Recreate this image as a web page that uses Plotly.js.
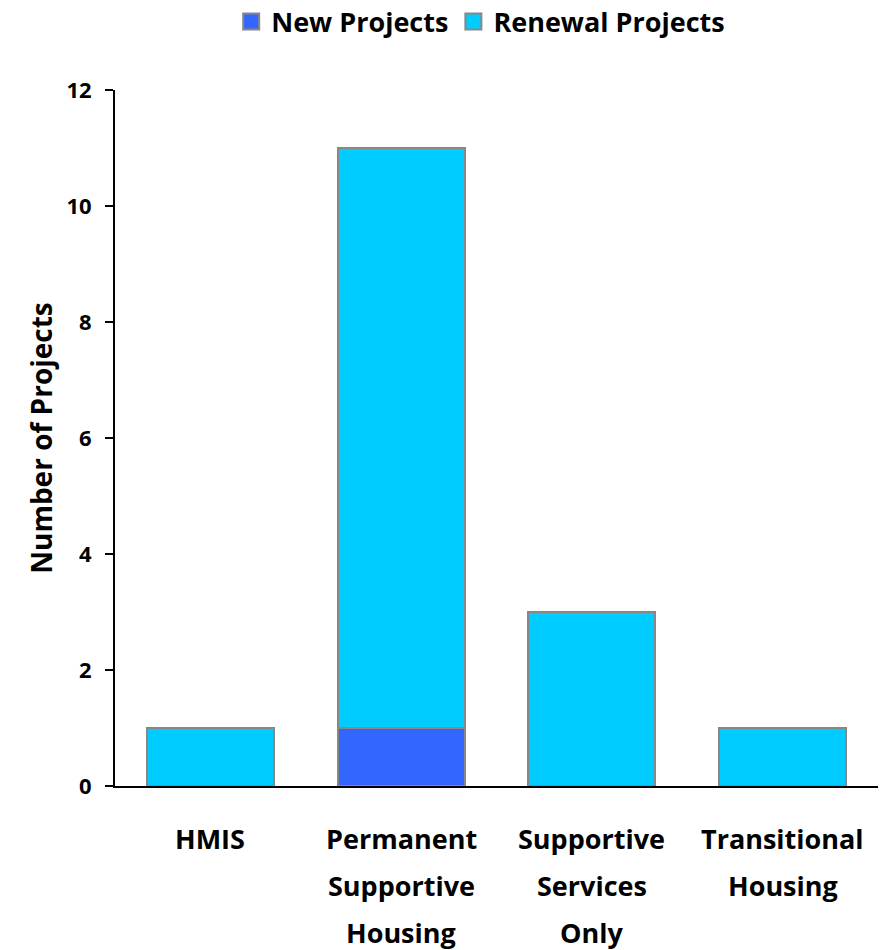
<!DOCTYPE html>
<html><head><meta charset="utf-8">
<script src="https://cdn.plot.ly/plotly-3.0.1.min.js"></script>
<style>html,body{margin:0;padding:0;background:#fff}#chart{width:882px;height:950px}</style>
</head><body><div id="chart"></div>
<script>
const categories = ["HMIS", "Permanent Supportive Housing", "Supportive Services Only", "Transitional Housing"];
const categoryLines = [["HMIS"], ["Permanent", "Supportive", "Housing"], ["Supportive", "Services", "Only"], ["Transitional", "Housing"]];
const seriesNames = ["New Projects", "Renewal Projects"];
const newProjects = [0, 1, 0, 0];
const renewalProjects = [1, 10, 3, 1];
const yTicks = [0, 2, 4, 6, 8, 10, 12];

const FONT = "'Open Sans', Lato, sans-serif";
const COLORS = ["#3366FF", "#00CCFF"];
const EDGE = "#878787";
const seriesValues = [newProjects, renewalProjects];

const traces = [];
seriesValues.forEach((vals, k) => {
  traces.push({type: "bar", name: seriesNames[k], x: categories, y: vals, showlegend: false,
    marker: {color: COLORS[k], line: {color: EDGE, width: 2}}});
});
seriesValues.forEach((vals, k) => {
  traces.push({type: "scatter", mode: "markers", name: "<b>" + seriesNames[k] + "</b>",
    x: [null], y: [null], showlegend: true, hoverinfo: "skip",
    marker: {symbol: "square", size: 22, color: COLORS[k], line: {color: EDGE, width: 2}}});
});

const annotations = [];
categoryLines.forEach((lines, i) => {
  lines.forEach((t, j) => {
    annotations.push({xref: "x", yref: "paper", x: categories[i], y: 0, yshift: -52 - 47 * j,
      yanchor: "middle", showarrow: false, text: "<b>" + t + "</b>",
      font: {family: FONT, size: 27, color: "#000"}});
  });
});

const layout = {
  width: 882, height: 950,
  margin: {l: 115, r: 4, t: 90, b: 164, autoexpand: false},
  barmode: "stack", bargap: 0.333,
  paper_bgcolor: "#fff", plot_bgcolor: "#fff",
  font: {family: FONT, color: "#000"},
  showlegend: true,
  legend: {orientation: "h", xref: "container", yref: "container", x: 0.545, xanchor: "center",
    y: 1 - 22 / 950, yanchor: "middle", itemsizing: "trace", itemwidth: 30, tracegroupgap: 0,
    font: {family: FONT, size: 27, color: "#000"}, traceorder: "normal"},
  xaxis: {type: "category", showticklabels: false, ticks: "", showline: true, linecolor: "#000", linewidth: 2,
    showgrid: false, zeroline: false, range: [-0.5, 3.5], fixedrange: true},
  yaxis: {range: [0, 12], tickvals: yTicks, ticktext: yTicks.map(v => "<b>" + v + "</b>"),
    ticks: "outside", ticklen: 8, tickwidth: 2, tickcolor: "#000", ticklabelstandoff: 9,
    showline: true, linecolor: "#000", linewidth: 2, showgrid: false, zeroline: false,
    tickfont: {family: FONT, size: 22, color: "#000"},
    title: {text: "<b>Number of Projects</b>", font: {family: FONT, size: 28, color: "#000"}, standoff: 6}},
  annotations: annotations
};
Plotly.newPlot("chart", traces, layout, {displayModeBar: false, staticPlot: true});
</script></body></html>
